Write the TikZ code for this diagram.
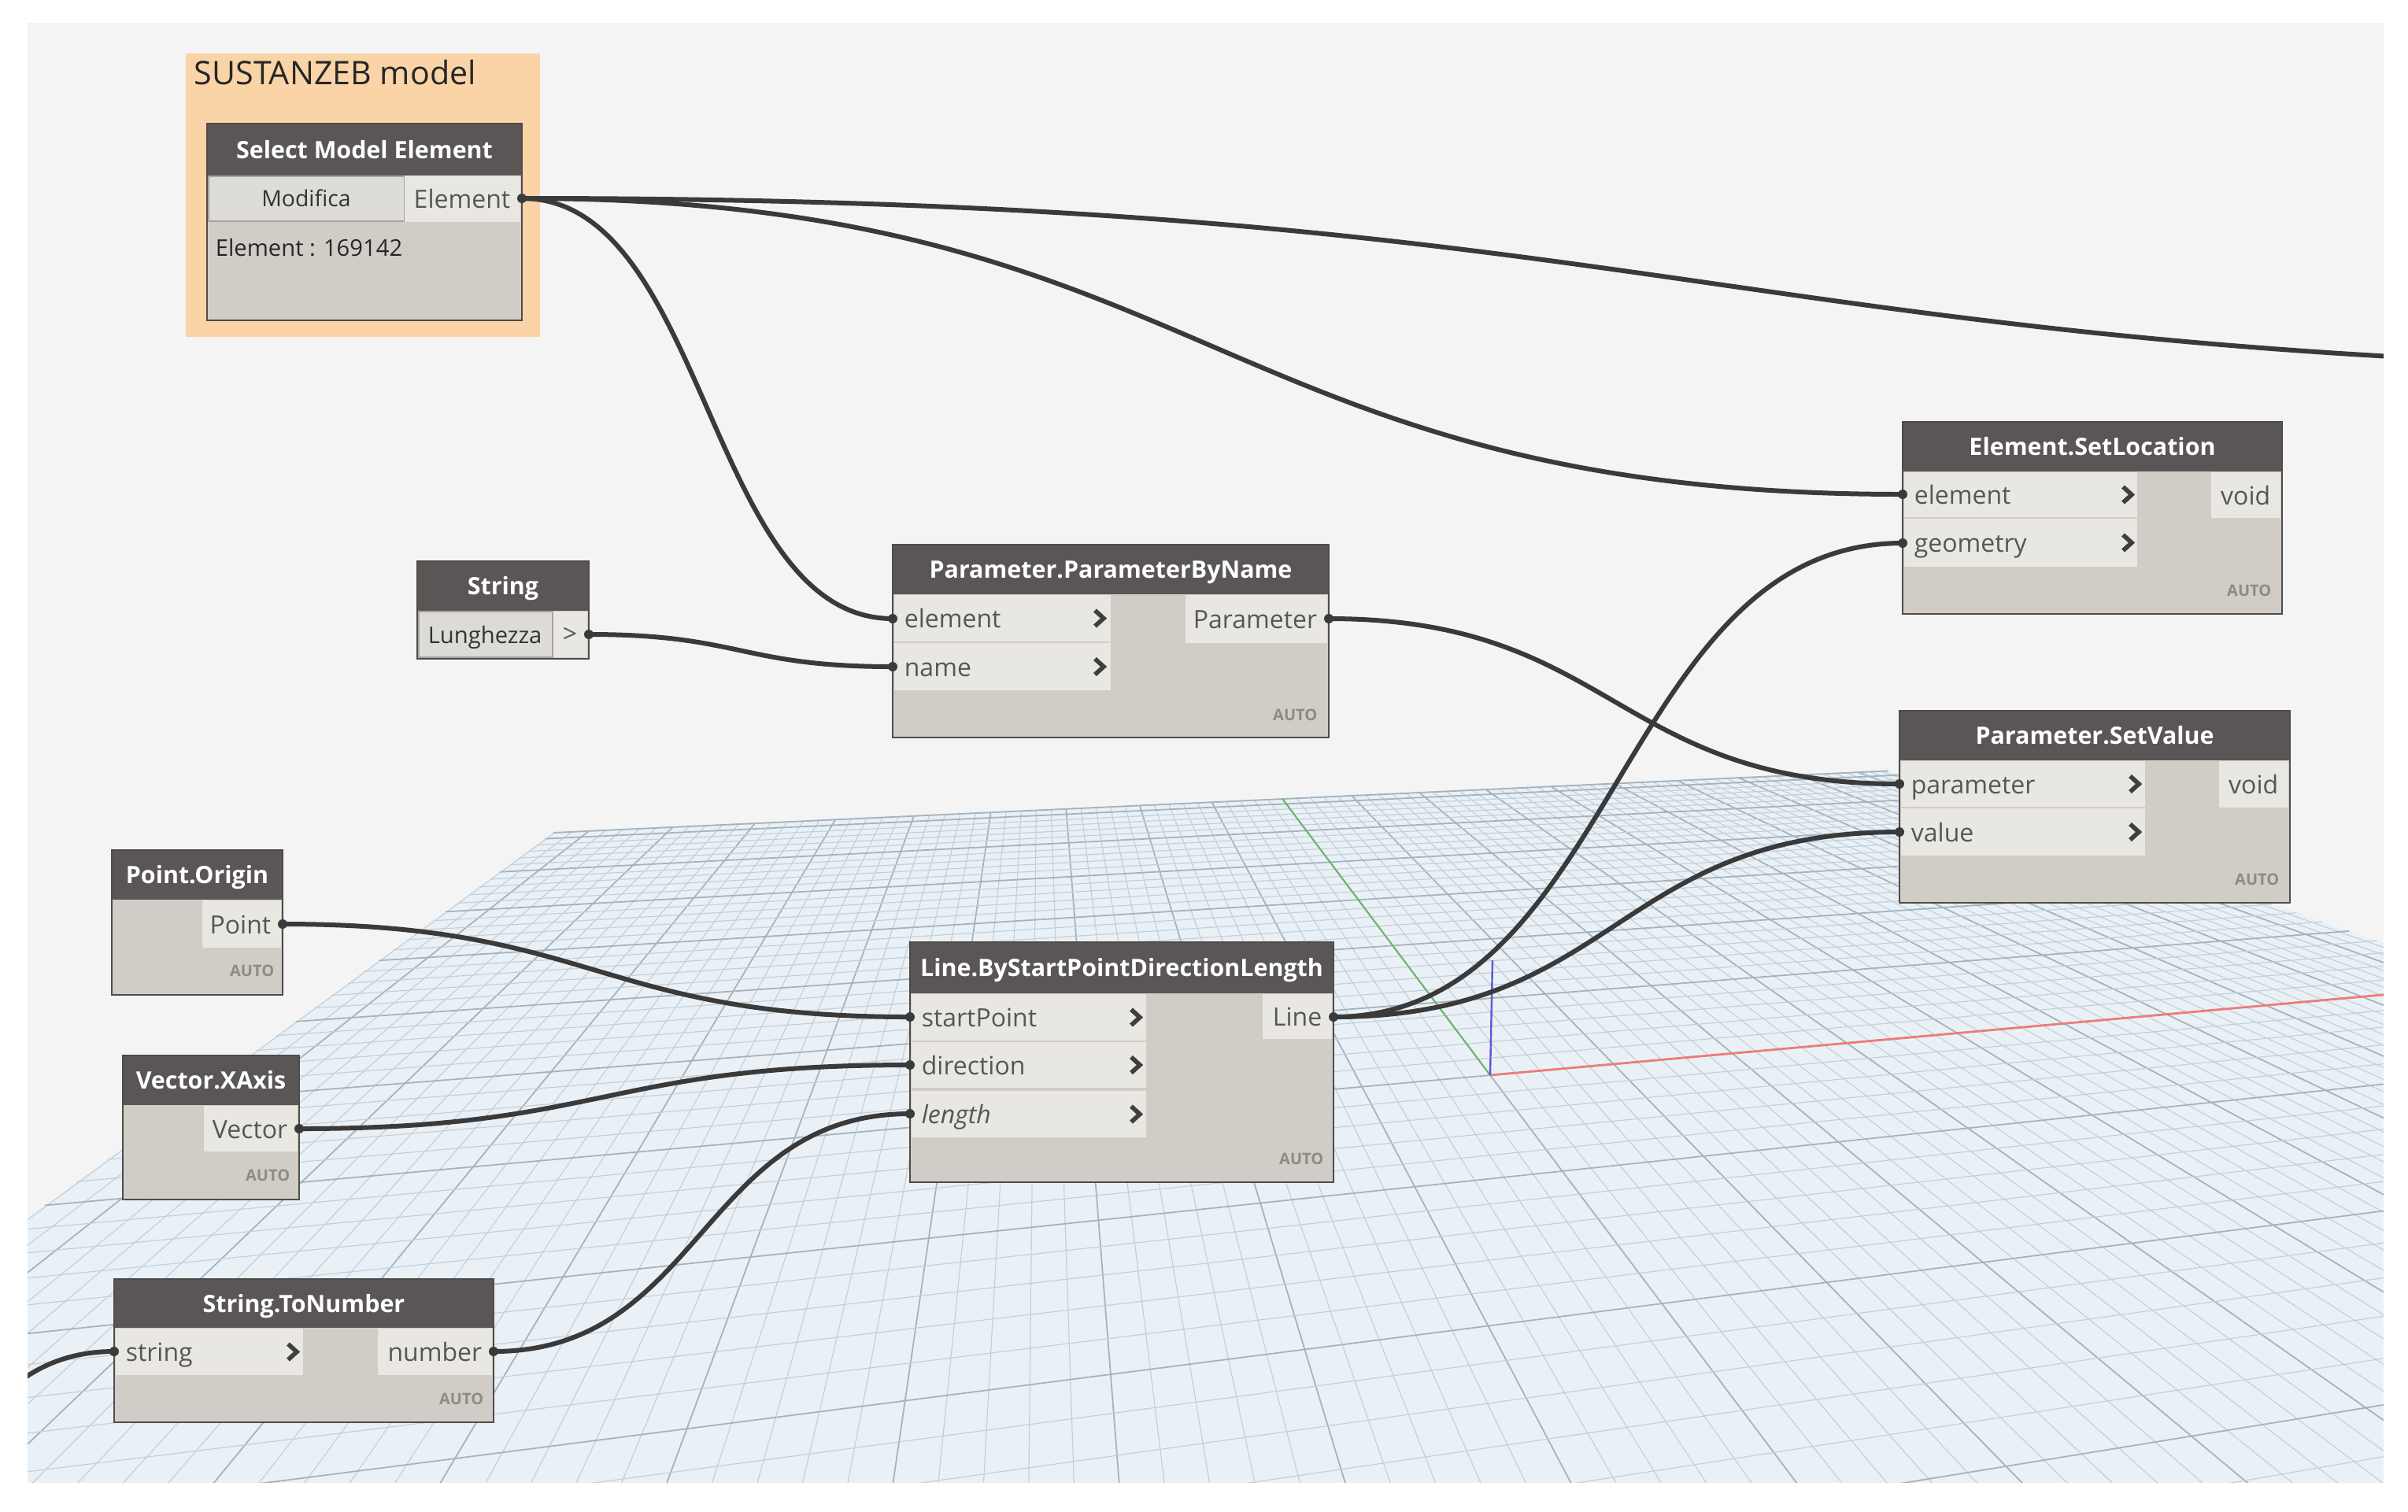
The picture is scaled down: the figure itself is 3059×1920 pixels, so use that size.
\documentclass[tikz,border=0pt]{standalone}
\usepackage{fontspec}
\setmainfont{Open Sans}
\definecolor{canvasbg}{HTML}{F4F4F4}
\definecolor{planefill}{HTML}{EAF1F6}
\definecolor{gridminorc}{HTML}{C3D0D9}
\definecolor{gridmajorc}{HTML}{A5B3BE}
\definecolor{groupc}{HTML}{FAD4A6}
\definecolor{headc}{HTML}{5A5655}
\definecolor{bodyc}{HTML}{D1CCC5}
\definecolor{portc}{HTML}{E9E7E2}
\definecolor{nframe}{HTML}{4E4B49}
\definecolor{porttxt}{HTML}{575655}
\definecolor{chevc}{HTML}{3F3F3F}
\definecolor{autoc}{HTML}{8E8A85}
\definecolor{wirec}{HTML}{3A3A3A}
\definecolor{xaxisc}{HTML}{EC7C7C}
\definecolor{yaxisc}{HTML}{6DB36D}
\definecolor{zaxisc}{HTML}{5C5CD0}
\definecolor{btnc}{HTML}{DEDCD9}
\definecolor{btnframe}{HTML}{A8A4A0}

\tikzset{
  nodebody/.style={fill=bodyc},
  nodehead/.style={fill=headc},
  nodeframe/.style={draw=nframe, line width=0.5pt},
  portfill/.style={fill=portc},
  titletext/.style={text=white, font=\bfseries\fontsize{7.6}{9}\selectfont, inner sep=0pt},
  porttext/.style={text=porttxt, font=\fontsize{8}{9.6}\selectfont, inner sep=0pt},
  autotext/.style={text=autoc, font=\bfseries\fontsize{5}{6}\selectfont, inner sep=0pt, anchor=base east},
  chev/.style={draw=chevc, line width=1.4pt, line join=miter},
  wire/.style={draw=wirec, line width=1.5pt},
  nub/.style={fill=wirec},
  gridminor/.style={draw=gridminorc, line width=0.3pt},
  gridmajor/.style={draw=gridmajorc, line width=0.45pt},
}

% perspective point of the floor plane: #1 = a, #2 = w, #3 = coordinate name
\newcommand\gridpoint[3]{%
  \pgfmathsetmacro\gHden{1+(#1)+(#2)}%
  \pgfmathsetmacro\gHx{(1893+(#1)*10200+(#2)*1321)/\gHden}%
  \pgfmathsetmacro\gHy{(1366+(#1)*618+(#2)*605)/\gHden}%
  \coordinate (#3) at (\gHx,\gHy);%
}
% node box: #1 name, #2 x1, #3 y1, #4 x2, #5 y2, #6 header bottom, #7 title
\newcommand\dynbox[7]{%
  \path[nodebody] (#2,#3) rectangle (#4,#5);
  \path[nodehead] (#2,#3) rectangle (#4,#6);
  \node[titletext, anchor=base] (#1) at ({(#2+#4)/2},{(#3+#6)/2+11}) {#7};
}
% input port: #1 name, #2 x1, #3 y1, #4 x2, #5 y2, #6 label, #7 chevron x
\newcommand\dynin[7]{%
  \path[portfill] (#2,#3) rectangle (#4,#5);
  \node[porttext, anchor=base west] (#1) at ({#2+12},{(#3+#5)/2+12}) {#6};
  \draw[chev] ({#7-6},{(#3+#5)/2-10}) -- ({#7+5},{(#3+#5)/2}) -- ({#7-6},{(#3+#5)/2+10});
}
% output port: #1 name, #2 x1, #3 y1, #4 x2, #5 y2, #6 label
\newcommand\dynout[6]{%
  \path[portfill] (#2,#3) rectangle (#4,#5);
  \node[porttext, anchor=base east] (#1) at ({#4-12},{(#3+#5)/2+12}) {#6};
}

\begin{document}
\begin{tikzpicture}[x=0.25pt, y=-0.25pt]
\useasboundingbox (0,0) rectangle (3059,1920);
\fill[white] (0,0) rectangle (3059,1920);
\fill[canvasbg] (35,29) rectangle (3028,1883);

% ---------- floor grid ----------
\begin{scope}
\clip (35,29) rectangle (3028,1883);
\gridpoint{-0.181}{-0.62}{pl1}
\gridpoint{0.183}{-0.62}{pl2}
\gridpoint{0.183}{0.856}{pl3}
\gridpoint{-0.181}{0.856}{pl4}
\fill[planefill] (pl1) -- (pl2) -- (pl3) -- (pl4) -- cycle;
\foreach \i in {-47,...,47} {
  \pgfmathsetmacro\ga{\i*0.00385}
  \gridpoint{\ga}{-0.62}{ga1}
  \gridpoint{\ga}{0.856}{ga2}
  \pgfmathtruncatemacro\gm{mod(abs(\i),5)}
  \ifnum\gm=0 \draw[gridmajor] (ga1) -- (ga2); \else \draw[gridminor] (ga1) -- (ga2); \fi
}
\foreach \j in {-22,...,31} {
  \pgfmathsetmacro\gw{\j*0.0276}
  \gridpoint{-0.181}{\gw}{gb1}
  \gridpoint{0.183}{\gw}{gb2}
  \pgfmathtruncatemacro\gm{mod(abs(\j),5)}
  \ifnum\gm=0 \draw[gridmajor] (gb1) -- (gb2); \else \draw[gridminor] (gb1) -- (gb2); \fi
}
\draw[gridmajor] (pl4) -- (pl3);
% axes
\gridpoint{0}{0}{orig}
\gridpoint{0}{0.856}{yend}
\gridpoint{0.183}{0}{xend}
\coordinate (zend) at (1896,1220);
\draw[yaxisc, line width=0.5pt] (orig) -- (yend);
\draw[xaxisc, line width=0.7pt] (orig) -- (xend);
\draw[zaxisc, line width=0.6pt] (orig) -- (zend);
\end{scope}

% ---------- group ----------
\fill[groupc] (236,68) rectangle (686,428);
\node[anchor=base west, inner sep=0pt, text=black!85, font=\fontsize{10.3}{12}\selectfont] (grp) at (246,107) {SUSTANZEB model};

% ---------- port coordinates ----------
\coordinate (sme-o) at (663,252);
\coordinate (str-o) at (748,806);
\coordinate (pbn-i1) at (1134,786);
\coordinate (pbn-i2) at (1134,847);
\coordinate (pbn-o) at (1688,786);
\coordinate (sl-i1) at (2417,628);
\coordinate (sl-i2) at (2417,690);
\coordinate (sv-i1) at (2413,996);
\coordinate (sv-i2) at (2413,1057);
\coordinate (ln-i1) at (1156,1292);
\coordinate (ln-i2) at (1156,1353);
\coordinate (ln-i3) at (1156,1415);
\coordinate (ln-o) at (1694,1292);
\coordinate (po-o) at (359,1174);
\coordinate (vx-o) at (380,1434);
\coordinate (stn-i) at (145,1717);
\coordinate (stn-o) at (627,1717);
\coordinate (far-r) at (3700,470);
\coordinate (far-l) at (-250,1950);

% ---------- wires ----------
\begin{scope}
\clip (35,29) rectangle (3028,1883);
\draw[wire] (sme-o) .. controls +(1518,0) and +(-1518,0) .. (far-r);
\draw[wire] (sme-o) .. controls +(877,0) and +(-877,0) .. (sl-i1);
\draw[wire] (sme-o) .. controls +(236,0) and +(-236,0) .. (pbn-i1);
\draw[wire] (str-o) .. controls +(193,0) and +(-193,0) .. (pbn-i2);
\draw[wire] (pbn-o) .. controls +(362,0) and +(-362,0) .. (sv-i1);
\draw[wire] (ln-o) .. controls +(361,0) and +(-361,0) .. (sl-i2);
\draw[wire] (ln-o) .. controls +(360,0) and +(-360,0) .. (sv-i2);
\draw[wire] (po-o) .. controls +(398,0) and +(-398,0) .. (ln-i1);
\draw[wire] (vx-o) .. controls +(388,0) and +(-388,0) .. (ln-i2);
\draw[wire] (stn-o) .. controls +(264,0) and +(-264,0) .. (ln-i3);
\draw[wire] (far-l) .. controls +(200,0) and +(-200,0) .. (stn-i);
\end{scope}

% ---------- Select Model Element ----------
\dynbox{sme}{263}{157}{663}{407}{223}{Select Model Element}
\path[fill=btnc, draw=btnframe, line width=0.4pt] (265,224) rectangle (514,281);
\node[porttext, text=black!80, font=\fontsize{7.1}{8.5}\selectfont, anchor=base] (sme-btn) at (389,262) {Modifica};
\dynout{sme-out}{514}{223}{661}{282}{Element}
\node[porttext, text=black!85, font=\fontsize{7.3}{8.8}\selectfont, anchor=base west] (sme-val) at (273,325) {Element : 169142};
\path[nodeframe] (263,157) rectangle (663,407);

% ---------- String ----------
\dynbox{str}{530}{713}{748}{837}{776}{String}
\path[fill=portc!95!black, draw=btnframe, line width=0.4pt] (532,777) rectangle (702,835);
\path[fill=portc] (703,777) rectangle (746,835);
\node[porttext, text=black!80, font=\fontsize{7.3}{8.8}\selectfont, anchor=base west] (str-val) at (543,817) {Lunghezza};
\node[porttext, anchor=base] (str-out) at (724,816) {>};
\path[nodeframe] (530,713) rectangle (748,837);

% ---------- Parameter.ParameterByName ----------
\dynbox{pbn}{1134}{692}{1688}{937}{755}{Parameter.ParameterByName}
\dynin{pbn-in1}{1136}{756}{1411}{815}{element}{1397}
\dynin{pbn-in2}{1136}{817}{1411}{877}{name}{1397}
\dynout{pbn-out}{1506}{756}{1686}{817}{Parameter}
\node[autotext] (pbn-auto) at (1674,915) {AUTO};
\path[nodeframe] (1134,692) rectangle (1688,937);

% ---------- Element.SetLocation ----------
\dynbox{sl}{2417}{536}{2899}{780}{599}{Element.SetLocation}
\dynin{sl-in1}{2419}{600}{2715}{657}{element}{2703}
\dynin{sl-in2}{2419}{659}{2715}{720}{geometry}{2703}
\dynout{sl-out}{2809}{600}{2897}{658}{void}
\node[autotext] (sl-auto) at (2886,757) {AUTO};
\path[nodeframe] (2417,536) rectangle (2899,780);

% ---------- Parameter.SetValue ----------
\dynbox{sv}{2413}{903}{2909}{1147}{966}{Parameter.SetValue}
\dynin{sv-in1}{2415}{967}{2725}{1025}{parameter}{2712}
\dynin{sv-in2}{2415}{1027}{2725}{1087}{value}{2712}
\dynout{sv-out}{2819}{967}{2907}{1026}{void}
\node[autotext] (sv-auto) at (2896,1124) {AUTO};
\path[nodeframe] (2413,903) rectangle (2909,1147);

% ---------- Line.ByStartPointDirectionLength ----------
\dynbox{ln}{1156}{1197}{1694}{1502}{1262}{Line.ByStartPointDirectionLength}
\dynin{ln-in1}{1158}{1263}{1456}{1322}{startPoint}{1443}
\dynin{ln-in2}{1158}{1324}{1456}{1382}{direction}{1443}
\dynin{ln-in3}{1158}{1386}{1456}{1445}{\itshape length}{1443}
\dynout{ln-out}{1604}{1263}{1692}{1320}{Line}
\node[autotext] (ln-auto) at (1682,1479) {AUTO};
\path[nodeframe] (1156,1197) rectangle (1694,1502);

% ---------- Point.Origin ----------
\dynbox{po}{142}{1080}{359}{1264}{1143}{Point.Origin}
\dynout{po-out}{257}{1144}{357}{1204}{Point}
\node[autotext] (po-auto) at (349,1240) {AUTO};
\path[nodeframe] (142,1080) rectangle (359,1264);

% ---------- Vector.XAxis ----------
\dynbox{vx}{156}{1341}{380}{1524}{1404}{Vector.XAxis}
\dynout{vx-out}{259}{1405}{378}{1463}{Vector}
\node[autotext] (vx-auto) at (369,1500) {AUTO};
\path[nodeframe] (156,1341) rectangle (380,1524);

% ---------- String.ToNumber ----------
\dynbox{stn}{145}{1625}{627}{1807}{1687}{String.ToNumber}
\dynin{stn-in}{147}{1688}{385}{1747}{string}{372}
\dynout{stn-out}{480}{1688}{625}{1747}{number}
\node[autotext] (stn-auto) at (615,1784) {AUTO};
\path[nodeframe] (145,1625) rectangle (627,1807);

% ---------- port nubs ----------
\foreach \p in {sme-o,str-o,pbn-i1,pbn-i2,pbn-o,sl-i1,sl-i2,sv-i1,sv-i2,ln-i1,ln-i2,ln-i3,ln-o,po-o,vx-o,stn-i,stn-o}
  \fill[nub] (\p) circle (6);
\end{tikzpicture}
\end{document}
